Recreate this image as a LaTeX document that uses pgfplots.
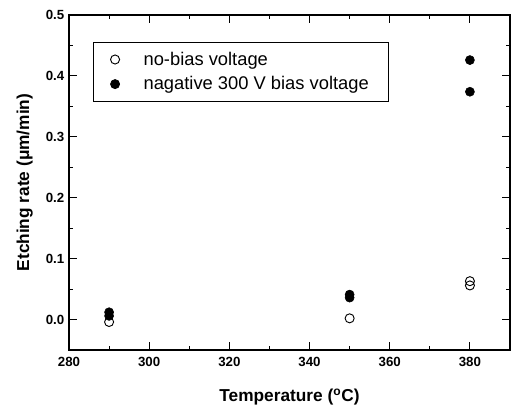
\documentclass[border=0pt]{standalone}
\usepackage{pgfplots}
\pgfplotsset{compat=1.18}
\usepackage{fontspec}
\setmainfont{Liberation Sans}
\begin{document}
\begin{tikzpicture}
\begin{axis}[
    scale only axis,
    width=330.75bp, height=251.25bp,
    xmin=280, xmax=390,
    ymin=-0.05, ymax=0.5,
    xtick={280,300,...,380},
    minor x tick num=1,
    ytick={0,0.1,...,0.5},
    minor y tick num=1,
    tick align=inside,
    major tick length=6bp,
    minor tick length=3bp,
    axis line style={line width=0.9pt},
    every tick/.style={line width=0.7pt, black},
    /pgf/number format/assume math mode=true,
    ticklabel style={font=\bfseries\fontsize{10}{12}\selectfont},
    xticklabel style={yshift=-2bp},
    yticklabel style={/pgf/number format/.cd, fixed, fixed zerofill, precision=1},
    xlabel={\bfseries Temperature (\textsuperscript{o}C)},
    ylabel={\bfseries Etching rate (μm/min)},
    label style={font=\bfseries\fontsize{13}{15}\selectfont},
    xlabel style={yshift=-10bp},
    ylabel style={yshift=3bp},
    legend style={at={(0.054,0.919)}, anchor=north west,
        draw=black, line width=0.6pt,
        font=\fontsize{13.8}{15}\selectfont,
        inner xsep=13bp, inner ysep=5.5bp,
        row sep=4bp,
        nodes={inner ysep=1.5bp}},
    legend cell align=left,
]
\addplot[only marks, mark=o, mark size=3.4bp, mark options={line width=0.7pt}, black]
    coordinates {(290,-0.004)(350,0.002)(380,0.056)(380,0.063)};
\addlegendentry{\hspace{16bp}no-bias voltage}
\addplot[only marks, mark=*, mark size=3.4bp, black]
    coordinates {(290,0.006)(290,0.012)(350,0.036)(350,0.041)(380,0.374)(380,0.426)};
\addlegendentry{\hspace{16bp}nagative 300 V bias voltage\hspace{5bp}}
\end{axis}
\path (current axis.south west) ++(-51.75bp,-44.25bp) coordinate (bl);
\path (current axis.north east) ++(1.5bp,11.25bp) coordinate (tr);
\useasboundingbox (bl) rectangle (tr);
\end{tikzpicture}
\end{document}
